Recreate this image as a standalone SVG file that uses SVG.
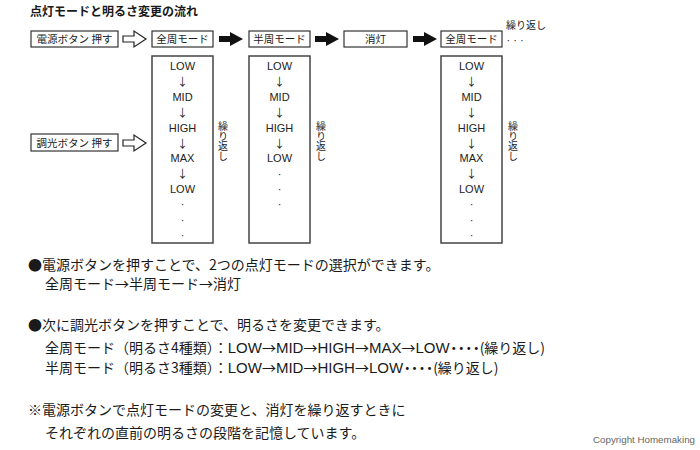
<svg xmlns="http://www.w3.org/2000/svg" width="700" height="450" viewBox="0 0 700 450">
<style>
.bg{fill:#fff}
.box{fill:#fff;stroke:#333;stroke-width:1.2}
.tall{fill:#fff;stroke:#444;stroke-width:1.5}
.jp{font-family:"Noto Sans CJK JP","Liberation Sans",sans-serif;fill:#1a1a1a}
.bl{font-size:10.5px;text-anchor:middle}
.lv{font-family:"Liberation Sans","Noto Sans CJK JP",sans-serif;font-size:11px;fill:#222;text-anchor:middle}
.ar{font-family:"Noto Sans CJK JP",sans-serif;font-size:11px;fill:#222;text-anchor:middle}
.vt{font-family:"Noto Sans CJK JP",sans-serif;font-size:10px;fill:#222;writing-mode:vertical-rl}
.desc{font-size:14px}
.lat{font-family:"Liberation Sans",sans-serif;font-size:15px}
.dots{letter-spacing:-6.5px}
.hollow{fill:#fff;stroke:#222;stroke-width:1.2;stroke-linejoin:miter}
.solid{fill:#111}
</style>
<rect class="bg" x="0" y="0" width="700" height="450"/>
<text class="jp" x="30" y="16" font-size="12" font-weight="bold">点灯モードと明るさ変更の流れ</text>

<g id="connectors">
  <polygon class="hollow" points="123,36 134,36 134,31 146,39 134,47 134,42 123,42"/>
  <polygon class="hollow" points="123,140 134,140 134,135 146,143 134,151 134,146 123,146"/>
  <polygon class="solid" points="219,36 230,36 230,32 243,39 230,46 230,42 219,42"/>
  <polygon class="solid" points="315,36 326,36 326,32 339,39 326,46 326,42 315,42"/>
  <polygon class="solid" points="413,36 424,36 424,32 437,39 424,46 424,42 413,42"/>
</g>

<g id="power-button">
  <rect class="box" x="31" y="31" width="87" height="16"/>
  <text class="jp bl" x="74.5" y="43">電源ボタン 押す</text>
</g>
<g id="dim-button">
  <rect class="box" x="31" y="134" width="87" height="17"/>
  <text class="jp bl" x="74.5" y="146.5">調光ボタン 押す</text>
</g>

<g id="mode-full-1">
  <rect class="box" x="152" y="31" width="61" height="16"/>
  <text class="jp bl" x="182.5" y="43">全周モード</text>
</g>
<g id="mode-half">
  <rect class="box" x="249" y="31" width="61" height="16"/>
  <text class="jp bl" x="279.5" y="43">半周モード</text>
</g>
<g id="mode-off">
  <rect class="box" x="344" y="31" width="63" height="16"/>
  <text class="jp bl" x="375.5" y="43">消灯</text>
</g>
<g id="mode-full-2">
  <rect class="box" x="441" y="31" width="61" height="16"/>
  <text class="jp bl" x="471.5" y="43">全周モード</text>
  <text class="jp" x="506" y="29" font-size="10">繰り返し</text>
  <text class="lv" x="515" y="44">· · ·</text>
</g>

<g id="levels-full-1">
  <rect class="tall" x="152" y="56" width="61" height="187"/>
  <text class="lv" x="182.5" y="70">LOW</text>
  <text class="ar" x="182.5" y="86">↓</text>
  <text class="lv" x="182.5" y="101">MID</text>
  <text class="ar" x="182.5" y="116.5">↓</text>
  <text class="lv" x="182.5" y="131.5">HIGH</text>
  <text class="ar" x="182.5" y="147.5">↓</text>
  <text class="lv" x="182.5" y="162">MAX</text>
  <text class="ar" x="182.5" y="178">↓</text>
  <text class="lv" x="182.5" y="193">LOW</text>
  <text class="lv" x="182.5" y="208">·</text>
  <text class="lv" x="182.5" y="223.5">·</text>
  <text class="lv" x="182.5" y="238.5">·</text>
  <text class="vt" x="223" y="121">繰り返し</text>
</g>

<g id="levels-half">
  <rect class="tall" x="249" y="56" width="61" height="187"/>
  <text class="lv" x="279.5" y="70">LOW</text>
  <text class="ar" x="279.5" y="86">↓</text>
  <text class="lv" x="279.5" y="101">MID</text>
  <text class="ar" x="279.5" y="116.5">↓</text>
  <text class="lv" x="279.5" y="131.5">HIGH</text>
  <text class="ar" x="279.5" y="147.5">↓</text>
  <text class="lv" x="279.5" y="162">LOW</text>
  <text class="lv" x="279.5" y="177.5">·</text>
  <text class="lv" x="279.5" y="193">·</text>
  <text class="lv" x="279.5" y="208">·</text>
  <text class="vt" x="321" y="121">繰り返し</text>
</g>

<g id="levels-full-2">
  <rect class="tall" x="441" y="56" width="61" height="187"/>
  <text class="lv" x="471.5" y="70">LOW</text>
  <text class="ar" x="471.5" y="86">↓</text>
  <text class="lv" x="471.5" y="101">MID</text>
  <text class="ar" x="471.5" y="116.5">↓</text>
  <text class="lv" x="471.5" y="131.5">HIGH</text>
  <text class="ar" x="471.5" y="147.5">↓</text>
  <text class="lv" x="471.5" y="162">MAX</text>
  <text class="ar" x="471.5" y="178">↓</text>
  <text class="lv" x="471.5" y="193">LOW</text>
  <text class="lv" x="471.5" y="208">·</text>
  <text class="lv" x="471.5" y="223.5">·</text>
  <text class="lv" x="471.5" y="238.5">·</text>
  <text class="vt" x="513" y="121">繰り返し</text>
</g>

<g id="notes">
  <text class="jp desc" x="28" y="270">●電源ボタンを押すことで、2つの点灯モードの選択ができます。</text>
  <text class="jp desc" x="45" y="289">全周モード→半周モード→消灯</text>
  <text class="jp desc" x="28" y="330">●次に調光ボタンを押すことで、明るさを変更できます。</text>
  <text class="jp desc" x="45" y="353">全周モード（明るさ4種類）：<tspan class="lat">LOW</tspan>→<tspan class="lat">MID</tspan>→<tspan class="lat">HIGH</tspan>→<tspan class="lat">MAX</tspan>→<tspan class="lat">LOW</tspan><tspan class="dots" dx="-3">・・・・</tspan><tspan dx="3">(繰り返し)</tspan></text>
  <text class="jp desc" x="45" y="373">半周モード（明るさ3種類）：<tspan class="lat">LOW</tspan>→<tspan class="lat">MID</tspan>→<tspan class="lat">HIGH</tspan>→<tspan class="lat">LOW</tspan><tspan class="dots" dx="-3">・・・・</tspan><tspan dx="3">(繰り返し)</tspan></text>
  <text class="jp desc" x="28" y="415">※電源ボタンで点灯モードの変更と、消灯を繰り返すときに</text>
  <text class="jp desc" x="45" y="438">それぞれの直前の明るさの段階を記憶しています。</text>
  <text x="593" y="443" font-family="Liberation Sans,sans-serif" font-size="9" fill="#666" textLength="102" lengthAdjust="spacingAndGlyphs">Copyright Homemaking</text>
</g>
</svg>
